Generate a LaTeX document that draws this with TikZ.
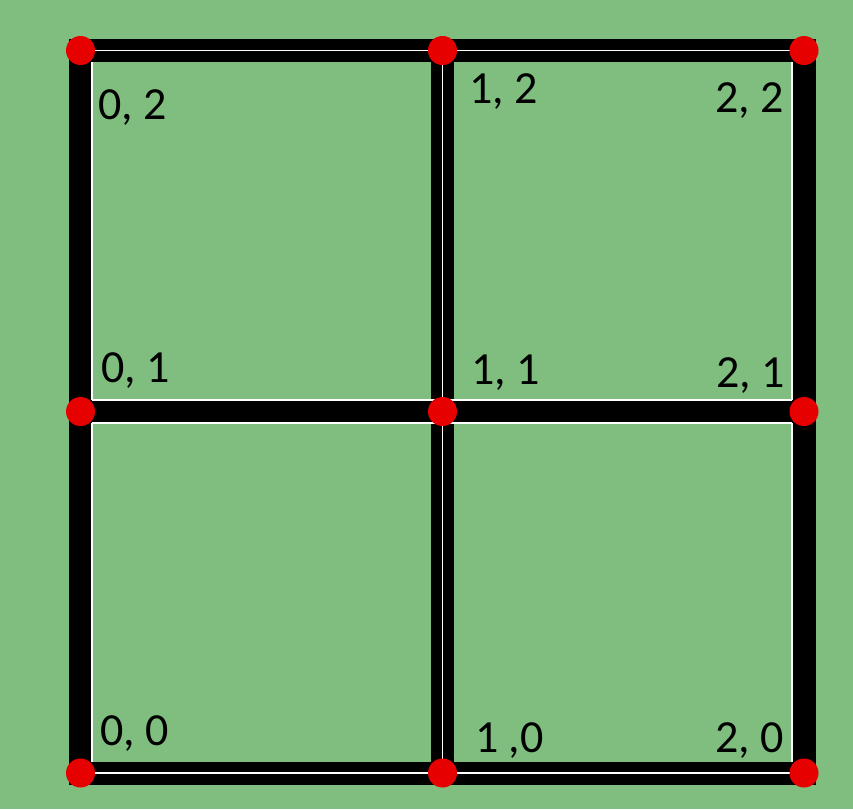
\documentclass[tikz,border=0pt]{standalone}
\usepackage{fontspec}
\setmainfont{Carlito}
\definecolor{bg}{RGB}{127,190,127}
\definecolor{dotred}{RGB}{230,0,0}
\begin{document}
\begin{tikzpicture}[x=1pt,y=-1pt,
  band/.style={draw=black,line width=23pt,line cap=rect},
  wline/.style={draw=white,line width=1.3pt},
  dot/.style={circle,fill=dotred,draw=none,minimum size=29pt,inner sep=0pt},
  lbl/.style={anchor=base west,inner sep=0pt,font=\fontsize{46}{46}\selectfont}]
\fill[bg] (0,0) rectangle (853,809);
\useasboundingbox (0,0) rectangle (853,809);
% coordinates of grid points
\coordinate (p02) at (80.5,50.5);
\coordinate (p12) at (442.5,50.5);
\coordinate (p22) at (804,50.5);
\coordinate (p01) at (80.5,411.5);
\coordinate (p11) at (442.5,411.5);
\coordinate (p21) at (804,411.5);
\coordinate (p00) at (80.5,773);
\coordinate (p10) at (442.5,773);
\coordinate (p20) at (804,773);
% vertical bands
\draw[band] (p02) -- (p00);
\draw[band] (p12) -- (p10);
\draw[band] (p22) -- (p20);
% top and bottom bands
\draw[band] (p02) -- (p22);
\draw[band] (p00) -- (p20);
% white lines
\draw[wline] (80.5,50.5) -- (792,50.5);
\draw[wline] (80.5,773) -- (792,773);
\draw[wline] (92,62) -- (92,400);
\draw[wline] (92,423) -- (92,762);
\draw[wline] (442.5,62) -- (442.5,400);
\draw[wline] (442.5,423) -- (442.5,773);
\draw[wline] (792,62) -- (792,400);
\draw[wline] (792,423) -- (792,762);
% middle band
\draw[band,line cap=butt] (p01) -- (p21);
\draw[wline] (92,400) -- (792,400);
\draw[wline] (92,423) -- (792,423);
% dots
\foreach \n in {02,12,22,01,11,21,00,10,20}
  \node[dot] (d\n) at (p\n) {};
% labels
\node[lbl] (l02) at (98,119) {0, 2};
\node[lbl] (l12) at (469,103) {1, 2};
\node[lbl] (l22) at (715,112) {2, 2};
\node[lbl] (l01) at (101,382) {0, 1};
\node[lbl] (l11) at (471,384) {1, 1};
\node[lbl] (l21) at (716,387) {2, 1};
\node[lbl] (l00) at (100,745) {0, 0};
\node[lbl] (l10) at (475,752) {1 ,0};
\node[lbl] (l20) at (715,752) {2, 0};
\end{tikzpicture}
\end{document}
